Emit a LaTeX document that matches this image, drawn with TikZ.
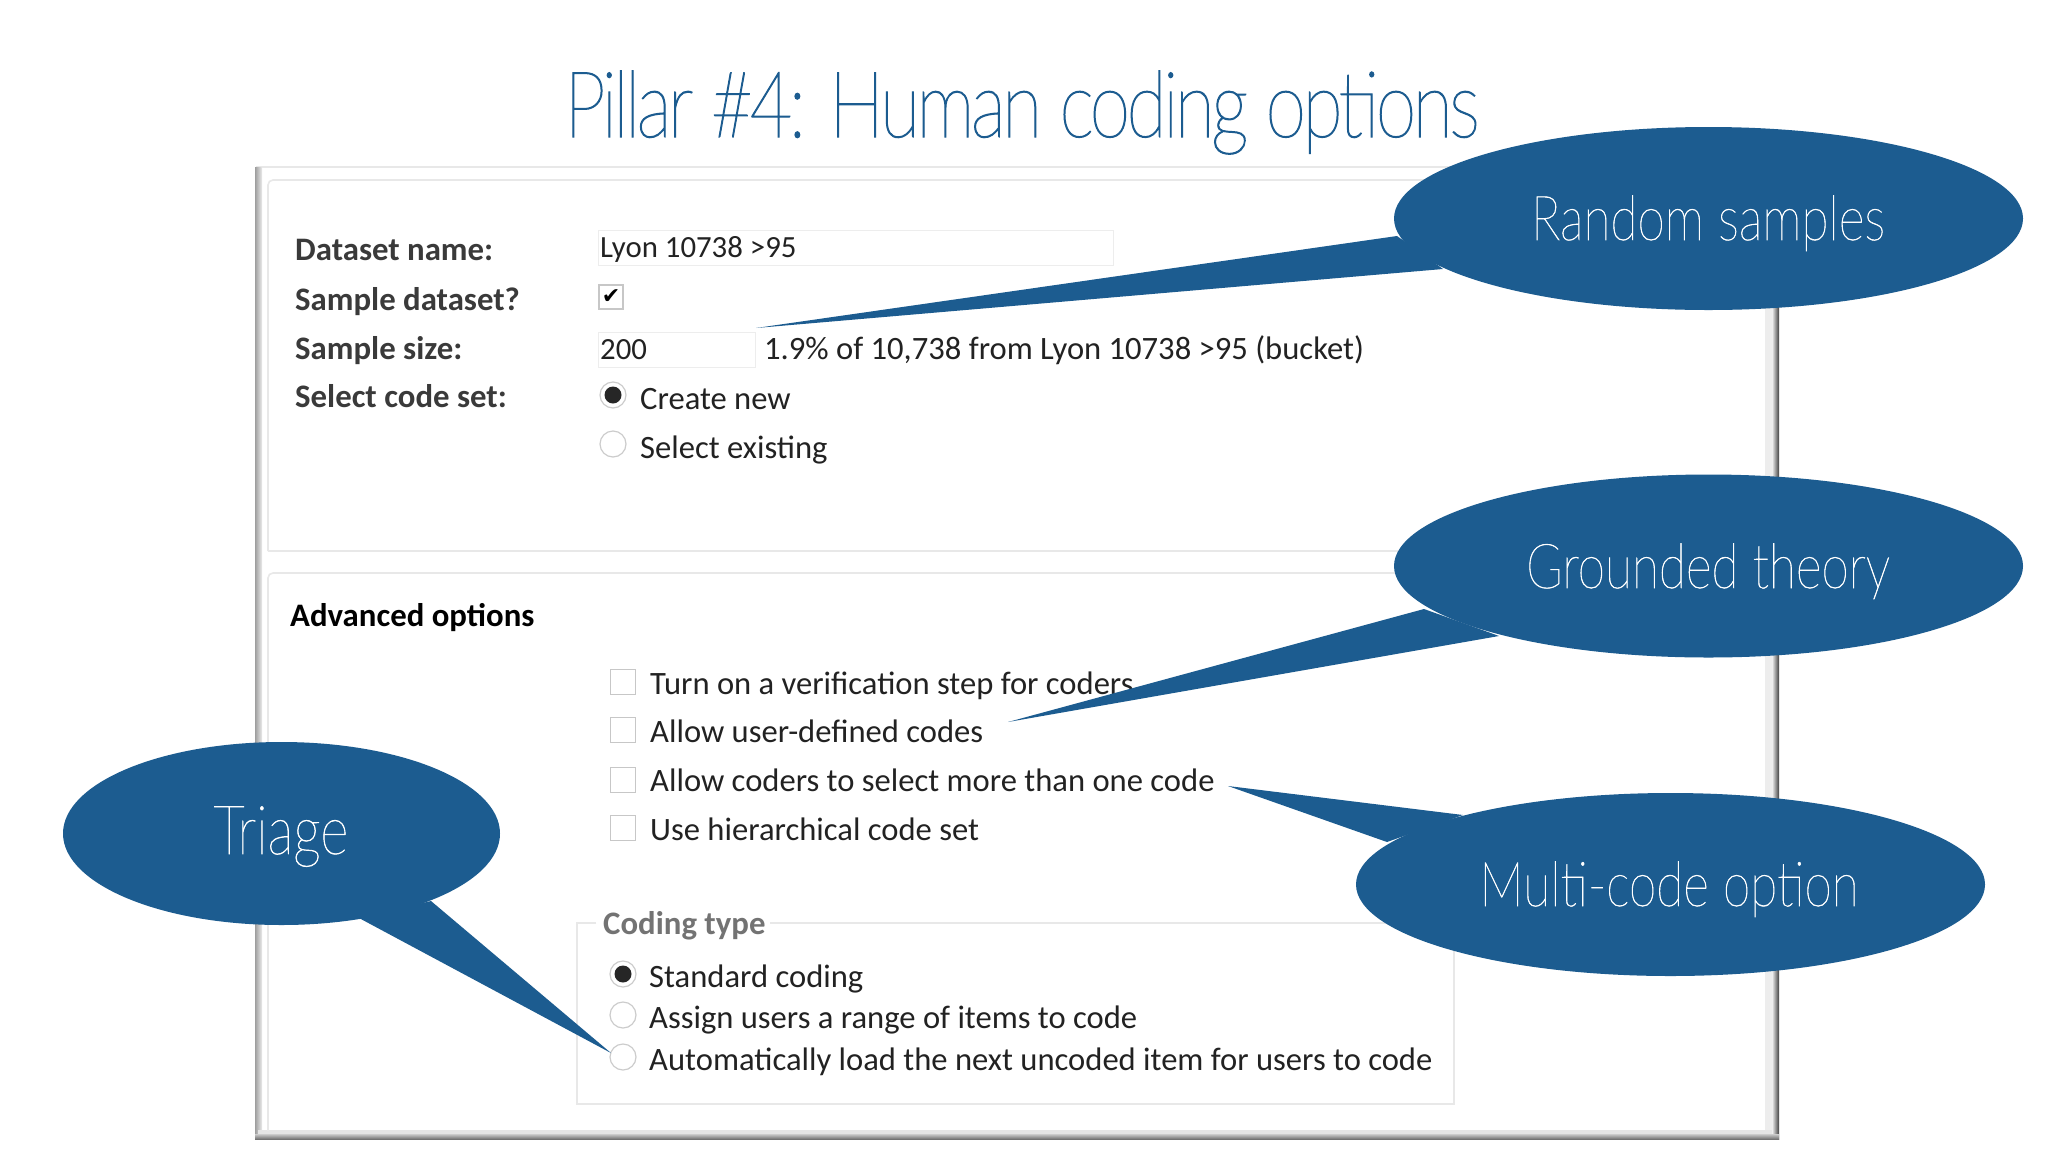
\documentclass[tikz,border=0pt]{standalone}
\usepackage{fontspec}
\usetikzlibrary{shapes.geometric}
\setmainfont{Carlito}
\newfontfamily\thinfont[FakeStretch=0.80,FakeBold=0.8]{Lato Thin}
\newfontfamily\titlefont[FakeStretch=0.80,LetterSpace=-3.9,FakeBold=1.2]{Lato Thin}
\definecolor{callblue}{HTML}{1C5C90}
\definecolor{titleblue}{HTML}{1C5C90}
\definecolor{uitext}{HTML}{222222}
\definecolor{uibold}{HTML}{3A3A3A}
\definecolor{uiline}{HTML}{E8E8E8}
\tikzset{
  x=1pt,y=-1pt,
  uilabel/.style={anchor=base west,inner sep=0pt,yshift=-0.5pt,font=\fontsize{32.6}{36}\selectfont,text=uitext},
  uifield/.style={uilabel,yshift=0.5pt,font=\fontsize{30.8}{36}\selectfont},
  uihead/.style={anchor=base west,inner sep=0pt,yshift=-0.5pt,font=\fontsize{32.8}{36}\selectfont\bfseries,text=uibold},
  callout/.style={ellipse,fill=callblue,draw=none,inner sep=0pt,minimum height=183pt},
  calltext/.style={anchor=base,inner sep=0pt,text=white,font=\thinfont\fontsize{62}{70}\selectfont},
  chk/.style={rectangle,draw=black!22,fill=white,line width=1.2pt,minimum size=25pt,inner sep=0pt},
  radio/.style={circle,draw=black!20,fill=white,line width=1.2pt,minimum size=26pt,inner sep=0pt},
  radioon/.style={radio,path picture={\fill[black!85] (path picture bounding box.center) circle (8.5pt);}},
  inbox/.style={rectangle,draw=black!7,line width=1pt,fill=white,inner sep=0pt,anchor=north west},
  panelbox/.style={draw=uiline,line width=1.6pt,rounded corners=5pt},
}
\begin{document}
\begin{tikzpicture}
\useasboundingbox (0,0) rectangle (2048,1152);
\fill[white] (0,0) rectangle (2048,1152);
% window frame
\draw[uiline,line width=2pt] (256,167) -- (1777,167);
\shade[left color=black!38,right color=black!8] (255,167) rectangle (262,1139);
\fill[black!7] (1765,167) rectangle (1772,1139);
\shade[left color=black!7,right color=black!75] (1772,167) rectangle (1779,1139);
\fill[black!10] (258,1130) rectangle (1772,1134);
\shade[top color=black!20,bottom color=black!55] (255,1134) rectangle (1779,1139);
% inner boxes
\draw[panelbox] (268,551) -- (268,180) -- (1766,180);
\draw[panelbox] (268,551) -- (1766,551);
\draw[panelbox] (268,1131) -- (268,573) -- (1766,573);
\draw[draw=uiline,line width=1.5pt] (596,923) -- (577,923) -- (577,1104) -- (1454,1104) -- (1454,923) -- (770,923);
% top form
\node[uihead] (dsn) at (295,260) {Dataset name:};
\node[uihead] (sds) at (295,310) {Sample dataset?};
\node[uihead] (ssz) at (295,359) {Sample size:};
\node[uihead] (scs) at (295,407) {Select code set:};
\node[inbox,minimum width=515pt,minimum height=35pt] (f1) at (598,230) {};
\node[uifield] (lyon) at (600,257) {Lyon 10738 >95};
\node[chk,minimum size=24pt] (c0) at (611,297) {};
\node[inner sep=0pt,font=\fontsize{22}{22}\selectfont] (c0m) at (611,297) {\fontspec{DejaVu Sans}\char"2714};
\node[inbox,minimum width=157pt,minimum height=35pt] (f2) at (598,332) {};
\node[uifield] (n200) at (600,359) {200};
\node[uilabel] (pct) at (764,359) {1.9\% of 10,738 from Lyon 10738 >95 (bucket)};
\node[radioon] (r1) at (613,395) {};
\node[uilabel] (r1t) at (640,409) {Create new};
\node[radio] (r2) at (613,444) {};
\node[uilabel] (r2t) at (640,458) {Select existing};
% advanced
\node[anchor=base west,inner sep=0pt,yshift=-0.5pt,font=\fontsize{32.8}{36}\selectfont\bfseries,text=black] (adv) at (290,626) {Advanced options};
\node[chk] (c1) at (623,682) {};
\node[chk] (c2) at (623,730) {};
\node[chk] (c3) at (623,780) {};
\node[chk] (c4) at (623,828) {};
\node[uilabel] (c1t) at (650,693.5) {Turn on a verification step for coders};
\node[uilabel] (c2t) at (650,742) {Allow user-defined codes};
\node[uilabel] (c3t) at (650,791) {Allow coders to select more than one code};
\node[uilabel] (c4t) at (650,840) {Use hierarchical code set};
\node[anchor=base west,inner sep=0pt,yshift=-0.5pt,font=\fontsize{32.8}{36}\selectfont\bfseries,text=black!55] (ct) at (603,934) {Coding type};
\node[radioon] (r3) at (623,974) {};
\node[radio] (r4) at (623,1015) {};
\node[radio] (r5) at (623,1057) {};
\node[uilabel] (r3t) at (649,987) {Standard coding};
\node[uilabel] (r4t) at (649,1028) {Assign users a range of items to code};
\node[uilabel] (r5t) at (649,1070) {Automatically load the next uncoded item for users to code};
% title
\node[anchor=base,inner sep=0pt,text=titleblue,font=\titlefont\fontsize{92}{96}\selectfont] (title) at (1022,137) {Pillar \#4: Human coding options};
% callouts
\coordinate (t1) at (756,328);
\coordinate (t2) at (1008,722);
\coordinate (t3) at (1228,786);
\coordinate (t4) at (611,1053);
\fill[callblue] (t1) -- (1397,236) -- (1443,269) -- cycle;
\fill[callblue] (t2) -- (1424,609) -- (1499,636) -- cycle;
\fill[callblue] (t3) -- (1387,842) -- (1463,815) -- cycle;
\fill[callblue] (t4) -- (431,901) -- (359,918) -- cycle;
\node[callout,minimum width=629pt] (e1) at (1708.5,218.5) {};
\node[callout,minimum width=629pt] (e2) at (1708.5,566) {};
\node[callout,minimum width=629pt] (e3) at (1670.5,884.5) {};
\node[callout,minimum width=437pt] (e4) at (281.5,833.5) {};
\node[calltext] (e1t) at (1708,240) {Random samples};
\node[calltext] (e2t) at (1708,588) {Grounded theory};
\node[calltext] (e3t) at (1669,906) {Multi-code option};
\node[calltext,font=\thinfont\fontsize{68}{70}\selectfont] (e4t) at (281,854) {Triage};
\end{tikzpicture}
\end{document}
